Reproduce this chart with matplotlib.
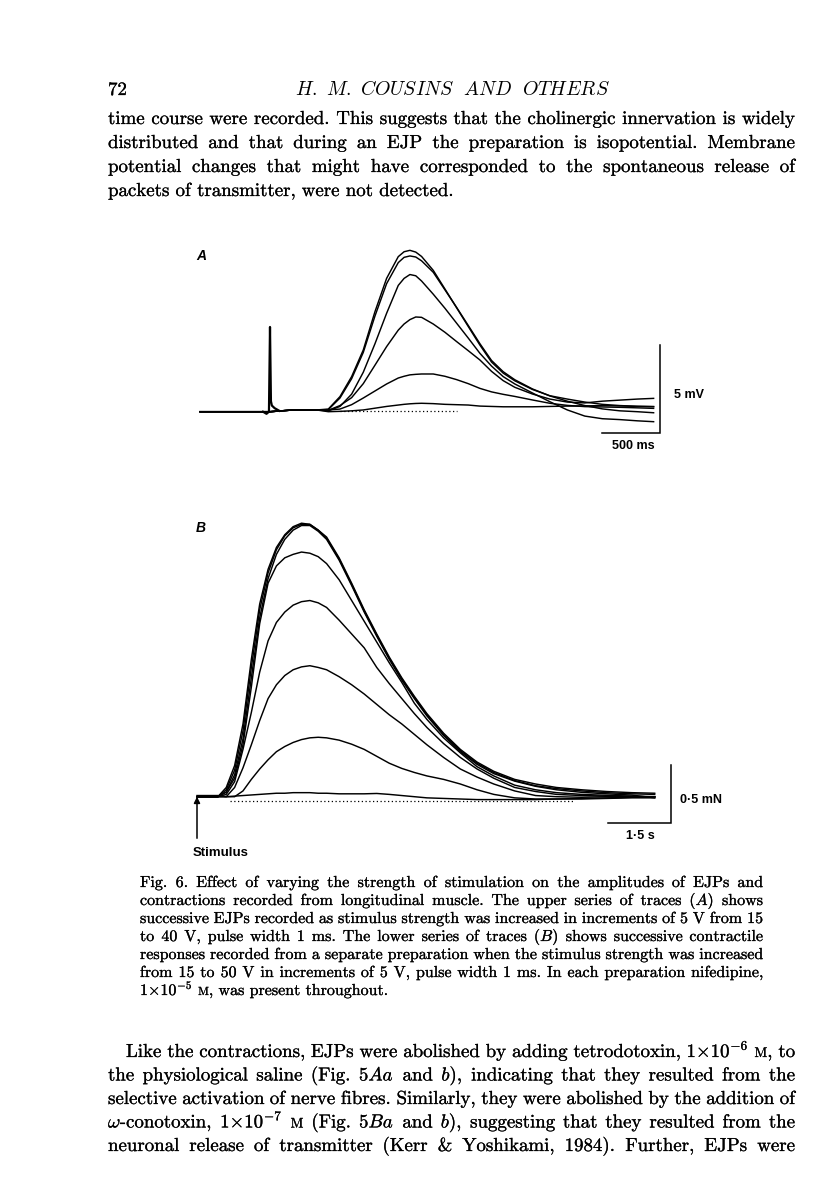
import matplotlib
matplotlib.use("Agg")
import matplotlib.pyplot as plt
import matplotlib.patheffects as pe

plt.rcParams["mathtext.fontset"] = "cm"
plt.rcParams["axes.unicode_minus"] = False

# ---------------- Panel A : EJPs (mV) vs time (ms) ----------------
T_A_MS = [-600, -400, -200, 0, 200, 400, 500, 600, 700, 800, 900, 1000, 1100,
          1150, 1200, 1250, 1300, 1400, 1500, 1600, 1700, 1800, 1900, 2000,
          2100, 2250, 2400, 2550, 2700, 2850, 3000, 3150, 3290]
EJP_15V = [0, 0, 0, 0, 0.1, 0.1, 0.0, 0.02, 0.05, 0.1, 0.2, 0.3, 0.38,
           0.42, 0.45, 0.47, 0.48, 0.46, 0.42, 0.4, 0.38, 0.32, 0.3, 0.28, 0.28,
           0.28, 0.3, 0.32, 0.33, 0.35, 0.33, 0.3, 0.29]
EJP_20V = [0, 0, 0, 0, 0.1, 0.1, 0.1, 0.15, 0.4, 0.78, 1.18, 1.58, 1.92,
           2.02, 2.1, 2.13, 2.15, 2.15, 2.02, 1.83, 1.6, 1.33, 1.13, 0.99, 0.87,
           0.67, 0.48, 0.36, 0.29, 0.27, 0.25, 0.22, 0.19]
EJP_25V = [0, 0, 0, 0, 0.1, 0.1, 0.08, 0.35, 0.8, 1.6, 2.65, 3.71, 4.65,
           5.0, 5.25, 5.4, 5.38, 5.0, 4.53, 4.0, 3.48, 2.95, 2.3, 1.77, 1.39,
           1.01, 0.72, 0.55, 0.5, 0.6, 0.66, 0.72, 0.76]
EJP_30V = [0, 0, 0, 0, 0.1, 0.1, 0.05, 0.3, 1.0, 2.25, 3.87, 5.61, 7.2,
           7.6, 7.82, 7.75, 7.45, 6.7, 5.9, 5.05, 4.2, 3.33, 2.6, 2.0, 1.58,
           1.07, 0.57, 0.1, -0.25, -0.4, -0.45, -0.52, -0.57]
EJP_35V = [0, 0, 0, 0, 0.1, 0.1, 0.12, 0.78, 1.88, 3.38, 5.45, 7.3, 8.5,
           8.8, 8.88, 8.82, 8.6, 7.95, 6.95, 5.95, 4.92, 3.88, 2.92, 2.28, 1.82,
           1.3, 0.9, 0.6, 0.35, 0.16, 0.05, 0.0, -0.06]
EJP_40V = [0, 0, 0, 0, 0.1, 0.1, 0.15, 0.86, 2.0, 3.52, 5.70, 7.6, 8.84,
           9.12, 9.2, 9.1, 8.85, 8.06, 7.0, 5.93, 4.86, 3.80, 2.83, 2.2, 1.76,
           1.27, 0.91, 0.72, 0.55, 0.42, 0.35, 0.31, 0.29]
ARTIFACT_T_MS = [-60, -30, -9, 0, 8, 16, 40, 80]
ARTIFACT_MV = [0.0, -0.12, 0.0, 4.83, 0.6, 0.35, 0.2, 0.05]
BASELINE_A_T_MS = [600, 1600]
BASELINE_A_MV = [0.05, 0.05]

# ---------------- Panel B : contractions (mN) vs time (s) ----------------
T_B_S = [0, 0.5, 0.7, 0.9, 1.1, 1.3, 1.5, 1.7, 1.9, 2.1, 2.3, 2.5, 2.7, 2.9,
         3.1, 3.4, 3.7, 4.0, 4.3, 4.6, 4.9, 5.2, 5.5, 5.9, 6.3, 6.7, 7.1,
         7.6, 8.1, 8.6, 9.2, 9.8, 10.4, 10.95]
FORCE_15V = [0.01, 0.01, 0.0, 0.005, 0.01, 0.015, 0.02, 0.025, 0.03, 0.03,
             0.035, 0.035, 0.035, 0.03, 0.03, 0.025, 0.025, 0.025, 0.028, 0.02,
             0.01, 0.0, -0.01, -0.015, -0.02, -0.025, -0.025, -0.025, -0.025,
             -0.02, -0.02, -0.015, -0.01, -0.01]
FORCE_20V = [0, 0, 0.0, 0.0, 0.05, 0.15, 0.24, 0.32, 0.39, 0.435, 0.47, 0.495,
             0.51, 0.515, 0.51, 0.49, 0.455, 0.41, 0.35, 0.29, 0.245, 0.21, 0.18,
             0.15, 0.11, 0.06, 0.02, -0.01, -0.02, -0.02, -0.015, -0.01, -0.005, 0.0]
FORCE_25V = [0, 0, 0.0, 0.08, 0.25, 0.45, 0.66, 0.85, 0.97, 1.05, 1.10, 1.125,
             1.135, 1.12, 1.10, 1.04, 0.97, 0.89, 0.80, 0.71, 0.63, 0.54, 0.45,
             0.34, 0.24, 0.17, 0.11, 0.05, 0.01, 0.0, -0.005, 0.0, 0.0, 0.0]
FORCE_30V = [0, 0, 0.02, 0.13, 0.41, 0.73, 1.08, 1.35, 1.51, 1.60, 1.66, 1.69,
             1.70, 1.68, 1.64, 1.53, 1.41, 1.29, 1.12, 0.98, 0.85, 0.72, 0.60,
             0.46, 0.34, 0.24, 0.16, 0.08, 0.045, 0.02, 0.01, 0.005, 0.0, 0.0]
FORCE_35V = [0, 0, 0.04, 0.16, 0.45, 0.95, 1.50, 1.85, 2.0, 2.07, 2.10, 2.12,
             2.11, 2.08, 2.02, 1.88, 1.70, 1.52, 1.34, 1.16, 0.99, 0.81, 0.67,
             0.51, 0.38, 0.26, 0.18, 0.10, 0.06, 0.035, 0.02, 0.012, 0.005, 0.0]
FORCE_40V = [0, 0, 0.04, 0.19, 0.50, 1.03, 1.55, 1.89, 2.10, 2.23, 2.31, 2.35,
             2.35, 2.30, 2.23, 2.05, 1.83, 1.60, 1.39, 1.19, 1.01, 0.85, 0.70,
             0.53, 0.39, 0.28, 0.20, 0.135, 0.09, 0.06, 0.038, 0.025, 0.014, -0.01]
FORCE_45V = [0, 0, 0.06, 0.23, 0.57, 1.12, 1.62, 1.94, 2.14, 2.26, 2.33, 2.36,
             2.36, 2.31, 2.24, 2.06, 1.84, 1.61, 1.40, 1.20, 1.02, 0.86, 0.71,
             0.54, 0.40, 0.29, 0.21, 0.14, 0.095, 0.07, 0.05, 0.035, 0.025, 0.02]
FORCE_50V = [0, 0, 0.08, 0.27, 0.63, 1.19, 1.67, 1.97, 2.16, 2.27, 2.34, 2.37,
             2.36, 2.31, 2.25, 2.07, 1.85, 1.62, 1.41, 1.21, 1.03, 0.87, 0.72,
             0.55, 0.41, 0.30, 0.22, 0.15, 0.11, 0.08, 0.06, 0.045, 0.035, 0.03]
BASELINE_B_T_S = [0.8, 9.0]
BASELINE_B_MN = [-0.04, -0.04]
STIM_ARROW_MN = [-0.36, 0.0]

SCALE_A = (500, 5)      # ms, mV
SCALE_B = (1.5, 0.5)    # s, mN
SCALE_A_LABELS = ("500 ms", "5 mV")
SCALE_B_LABELS = ("1\u00b75 s", "0\u00b75 mN")

# ---------------- page text ----------------
PAGE_NUMBER = "72"
RUNNING_HEAD = (r"$\mathit{H}\mathrm{.}\ \mathit{M}\mathrm{.}\ \mathit{COUSINS}"
                r"\ \ \mathit{AND}\ \ \mathit{OTHERS}$")
PARA_TOP = [
    "time course were recorded. This suggests that the cholinergic innervation is widely",
    "distributed and that during an EJP the preparation is isopotential. Membrane",
    "potential changes that might have corresponded to the spontaneous release of",
    "packets of transmitter, were not detected.",
]
CAPTION = [
    "Fig. 6. Effect of varying the strength of stimulation on the amplitudes of EJPs and",
    r"contractions recorded from longitudinal muscle. The upper series of traces ($\mathit{A}$) shows",
    "successive EJPs recorded as stimulus strength was increased in increments of 5 V from 15",
    r"to 40 V, pulse width 1 ms. The lower series of traces ($\mathit{B}$) shows successive contractile",
    "responses recorded from a separate preparation when the stimulus strength was increased",
    "from 15 to 50 V in increments of 5 V, pulse width 1 ms. In each preparation nifedipine,",
    r"1$\times$10$^{-5}$ |M|, was present throughout.",
]
PARA_BOTTOM = [
    r"Like the contractions, EJPs were abolished by adding tetrodotoxin, 1$\times$10$^{-6}$ |M|, to",
    r"the physiological saline (Fig. 5$\mathit{Aa}$ and $\mathit{b}$), indicating that they resulted from the",
    "selective activation of nerve fibres. Similarly, they were abolished by the addition of",
    r"$\omega$-conotoxin, 1$\times$10$^{-7}$ |M| (Fig. 5$\mathit{Ba}$ and $\mathit{b}$), suggesting that they resulted from the",
    "neuronal release of transmitter (Kerr & Yoshikami, 1984). Further, EJPs were",
]

# ---------------- figure ----------------
W, H = 816, 1200
fig = plt.figure(figsize=(W / 100, H / 100), dpi=100)
fig.patch.set_facecolor("white")
page = fig.add_axes([0, 0, 1, 1])
page.set_xlim(0, W)
page.set_ylim(H, 0)
page.axis("off")
renderer = fig.canvas.get_renderer()

SERIF = ["cmr10", "DejaVu Serif"]
SANS = ["Liberation Sans", "DejaVu Sans"]
SMALLCAP = 0.74
INK = [pe.withStroke(linewidth=0.18, foreground="black")]


def px_axes(box, origin, scale):
    left, top, right, bottom = box
    x0, y0 = origin
    sx, sy = scale
    ax = fig.add_axes([left / W, 1 - bottom / H, (right - left) / W, (bottom - top) / H])
    ax.set_xlim((left - x0) / sx, (right - x0) / sx)
    ax.set_ylim((y0 - bottom) / sy, (y0 - top) / sy)
    ax.axis("off")
    ax.patch.set_alpha(0)
    return ax


# ---- text helpers (justified setting) ----
_wcache = {}


def seg_w(s, size):
    key = (s, round(size, 4))
    if key not in _wcache:
        t = page.text(0, 0, s, fontsize=size, family=SERIF)
        _wcache[key] = t.get_window_extent(renderer).width
        t.remove()
    return _wcache[key]


def segments(tok):
    parts = tok.split("|")
    return [(p, SMALLCAP if k % 2 else 1.0) for k, p in enumerate(parts) if p]


def tok_w(tok, size):
    return sum(seg_w(s, size * f) for s, f in segments(tok))


def fit_size(lines, left, right, indent, justify_last, trial=10.0, shrink=0.88):
    best = 100.0
    n_lines = len(lines) if justify_last else len(lines) - 1
    for i, line in enumerate(lines[:n_lines]):
        toks = line.split(" ")
        T = sum(tok_w(t, trial) for t in toks)
        S = 0.333 * trial * 100 / 72
        target = right - left - (indent if i == 0 else 0)
        best = min(best, trial * target / (T + shrink * (len(toks) - 1) * S))
    return best


def set_block(lines, left, right, baselines, size, indent=0, justify_last=False):
    space = 0.333 * size * 100 / 72
    for i, (line, yb) in enumerate(zip(lines, baselines)):
        x0 = left + (indent if i == 0 else 0)
        toks = line.split(" ")
        widths = [tok_w(t, size) for t in toks]
        last = i == len(lines) - 1
        if last and not justify_last:
            gap = space
        else:
            gap = (right - x0 - sum(widths)) / max(len(toks) - 1, 1)
        x = x0
        for t, w in zip(toks, widths):
            xx = x
            for s, f in segments(t):
                page.text(xx, yb, s, fontsize=size * f, family=SERIF,
                          ha="left", va="baseline", color="black",
                          path_effects=INK)
                xx += seg_w(s, size * f)
            x += w + gap


BODY_L, BODY_R = 108, 795
CAP_L, CAP_R = 140, 763
INDENT = 18

body_size = min(fit_size(PARA_TOP, BODY_L, BODY_R, 0, False),
                fit_size(PARA_BOTTOM, BODY_L, BODY_R, INDENT, True))
cap_size = fit_size(CAPTION, CAP_L, CAP_R, 0, False)

page.text(BODY_L, 95, PAGE_NUMBER, fontsize=body_size, family=SERIF,
          ha="left", va="baseline", path_effects=INK)
page.text(452, 95, RUNNING_HEAD, fontsize=body_size * 1.05, family=SERIF,
          ha="center", va="baseline")
set_block(PARA_TOP, BODY_L, BODY_R, [124 + 24 * k for k in range(4)], body_size)
set_block(CAPTION, CAP_L, CAP_R, [887 + 18 * k for k in range(7)], cap_size)
set_block(PARA_BOTTOM, BODY_L, BODY_R, [1057 + 23.5 * k for k in range(5)],
          body_size, indent=INDENT, justify_last=True)

# ---------------- Panel A ----------------
sxA, syA = 58.3 / SCALE_A[0], 87.7 / SCALE_A[1]
axA = px_axes((185, 235, 735, 465), (270, 411.7), (sxA, syA))
for trace in (EJP_15V, EJP_20V, EJP_25V, EJP_30V, EJP_35V, EJP_40V):
    axA.plot(T_A_MS, trace, color="black", lw=1.05, solid_joinstyle="round")
axA.plot(ARTIFACT_T_MS, ARTIFACT_MV, color="black", lw=1.6)
axA.plot(BASELINE_A_T_MS, BASELINE_A_MV, color="black", lw=0.9, ls=(0, (1, 2)))
cA_t, cA_v = (660 - 270) / sxA, (411.7 - 432.7) / syA
axA.plot([cA_t - SCALE_A[0], cA_t, cA_t], [cA_v, cA_v, cA_v + SCALE_A[1]],
         color="black", lw=1.1, solid_joinstyle="miter")
page.text(674, 395, SCALE_A_LABELS[1], fontsize=9, family=SANS, fontweight="bold",
          ha="left", va="center")
page.text(633, 446, SCALE_A_LABELS[0], fontsize=9, family=SANS, fontweight="bold",
          ha="center", va="center")
page.text(196, 260, "A", fontsize=10, family=SANS, fontstyle="italic",
          fontweight="bold", ha="left", va="baseline")

# ---------------- Panel B ----------------
sxB, syB = 62.7 / SCALE_B[0], 57.7 / SCALE_B[1]
axB = px_axes((180, 505, 735, 875), (197, 796.7), (sxB, syB))
for trace in (FORCE_15V, FORCE_20V, FORCE_25V, FORCE_30V, FORCE_35V,
              FORCE_40V, FORCE_45V, FORCE_50V):
    axB.plot(T_B_S, trace, color="black", lw=1.05, solid_joinstyle="round")
axB.plot(BASELINE_B_T_S, BASELINE_B_MN, color="black", lw=0.9, ls=(0, (1, 2)))
cB_t, cB_f = (671 - 197) / sxB, (796.7 - 822.7) / syB
axB.plot([cB_t - SCALE_B[0], cB_t, cB_t], [cB_f, cB_f, cB_f + SCALE_B[1]],
         color="black", lw=1.1, solid_joinstyle="miter")
axB.annotate("", xy=(0, STIM_ARROW_MN[1]), xytext=(0, STIM_ARROW_MN[0]),
             arrowprops=dict(arrowstyle="-|>", color="black", lw=1.1,
                             mutation_scale=9, shrinkA=0, shrinkB=0))
page.text(680, 800, SCALE_B_LABELS[1], fontsize=9, family=SANS, fontweight="bold",
          ha="left", va="center")
page.text(640, 836, SCALE_B_LABELS[0], fontsize=9, family=SANS, fontweight="bold",
          ha="center", va="center")
page.text(193, 853, "Stimulus", fontsize=9.5, family=SANS, fontweight="bold",
          ha="left", va="center")
page.text(196, 532, "B", fontsize=10, family=SANS, fontstyle="italic",
          fontweight="bold", ha="left", va="baseline")

fig.savefig("out.png", dpi=100, facecolor="white")
